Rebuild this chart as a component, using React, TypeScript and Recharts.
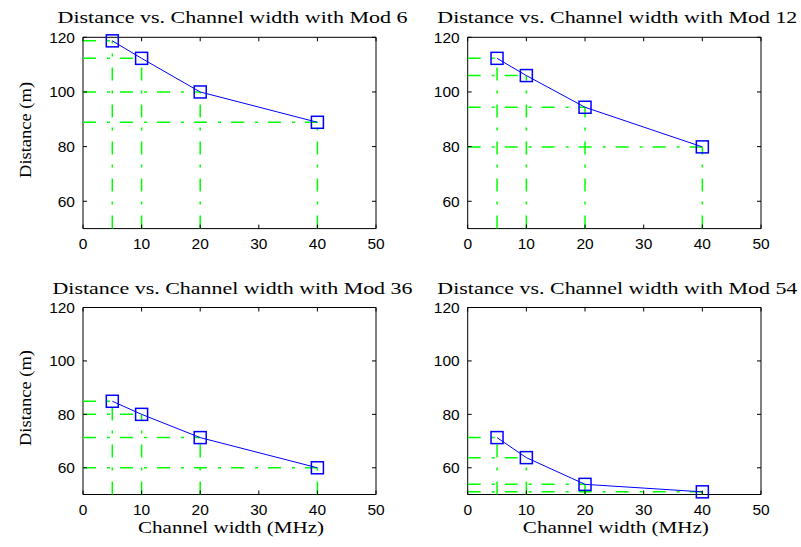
import * as React from "react";
import { LineChart, Line, XAxis, YAxis, ReferenceLine, ReferenceArea } from "recharts";

const channelWidths = [5, 10, 20, 40];
const mod6 = [118.7, 112.3, 100, 88.9];
const mod12 = [112.3, 106, 94.4, 79.9];
const mod36 = [84.9, 80, 71.3, 60];
const mod54 = [71.3, 63.8, 53.8, 51];

const xTicks = [0, 10, 20, 30, 40, 50];
const yTicks = [60, 80, 100, 120];
const modLabels = ["6", "12", "36", "54"];

const W = 801;
const H = 547;
const BLUE = "#0000ff";
const GREEN = "#00ff00";
const SERIF = "'Liberation Serif', 'Times New Roman', serif";
const SANS = "'Liberation Sans', Arial, sans-serif";

// plot boxes in page pixels
const PANELS = [
  { series: mod6, left: 83, right: 376, top: 37.3, bottom: 228.6, yLabel: true, xLabel: false, titleLen: 350 },
  { series: mod12, left: 467.7, right: 761, top: 37.3, bottom: 228.6, yLabel: false, xLabel: false, titleLen: 360 },
  { series: mod36, left: 83, right: 376, top: 307.5, bottom: 494.5, yLabel: true, xLabel: true, titleLen: 360 },
  { series: mod54, left: 467.7, right: 761, top: 307.5, bottom: 494.5, yLabel: false, xLabel: true, titleLen: 360 },
];

type Panel = (typeof PANELS)[number];

function Square(props: any) {
  const { cx, cy } = props;
  if (cx == null || cy == null) return null;
  return <rect x={cx - 6} y={cy - 6} width={12} height={12} fill="none" stroke={BLUE} strokeWidth={1.5} />;
}

function Subplot({ p, idx }: { p: Panel; idx: number }) {
  const data = channelWidths.map((x, i) => ({ x, y: p.series[i] }));
  const plotH = p.bottom - p.top;
  const plotW = p.right - p.left;
  const cx = (p.left + p.right) / 2;

  const xTick = (props: any) => {
    const { x, y, payload } = props;
    return (
      <g>
        <line x1={x} y1={y} x2={x} y2={y - 4} stroke="#000" />
        <line x1={x} y1={y - plotH} x2={x} y2={y - plotH + 4} stroke="#000" />
        <text x={x} y={y + 20} textAnchor="middle" fontFamily={SANS} fontSize={15.5} fill="#000">
          {payload.value}
        </text>
      </g>
    );
  };

  const yTick = (props: any) => {
    const { x, y, payload } = props;
    return (
      <g>
        <line x1={x} y1={y} x2={x + 4} y2={y} stroke="#000" />
        <line x1={x + plotW} y1={y} x2={x + plotW - 4} y2={y} stroke="#000" />
        <text x={x - 8} y={y + 5.5} textAnchor="end" fontFamily={SANS} fontSize={15.5} fill="#000">
          {payload.value}
        </text>
      </g>
    );
  };

  const title = () => (
    <g>
      <text
        x={cx + 3}
        y={p.top - 14}
        textAnchor="middle"
        fontFamily={SERIF}
        fontSize={17}
        textLength={p.titleLen}
        lengthAdjust="spacingAndGlyphs"
        fill="#000"
      >
        {`Distance vs. Channel width with Mod ${modLabels[idx]}`}
      </text>
      {p.xLabel && (
        <text
          x={cx + 1.5}
          y={p.bottom + 38.5}
          textAnchor="middle"
          fontFamily={SERIF}
          fontSize={17}
          textLength={186}
          lengthAdjust="spacingAndGlyphs"
          fill="#000"
        >
          Channel width (MHz)
        </text>
      )}
      {p.yLabel && (
        <text
          x={p.left - 52}
          y={(p.top + p.bottom) / 2 - 3}
          transform={`rotate(-90 ${p.left - 52} ${(p.top + p.bottom) / 2 - 3})`}
          textAnchor="middle"
          fontFamily={SERIF}
          fontSize={17}
          textLength={96}
          lengthAdjust="spacingAndGlyphs"
          fill="#000"
        >
          Distance (m)
        </text>
      )}
    </g>
  );

  return (
    <div style={{ position: "absolute", left: 0, top: 0 }}>
      <LineChart
        width={W}
        height={H}
        data={data}
        margin={{ left: p.left - 60, right: W - p.right, top: p.top, bottom: H - p.bottom - 30 }}
      >
        <XAxis
          type="number"
          dataKey="x"
          domain={[0, 50]}
          ticks={xTicks}
          interval={0}
          axisLine={false}
          tickLine={false}
          tickSize={0}
          tickMargin={0}
          height={30}
          tick={xTick}
        />
        <YAxis
          type="number"
          domain={[50, 120]}
          ticks={yTicks}
          interval={0}
          axisLine={false}
          tickLine={false}
          tickSize={0}
          tickMargin={0}
          width={60}
          tick={yTick}
        />
        <ReferenceArea x1={0} x2={50} y1={50} y2={120} fill="none" fillOpacity={0} stroke="#000" strokeWidth={1} label={title} />
        {data.map((d) => (
          <ReferenceLine
            key={`h${d.x}`}
            segment={[{ x: 0, y: d.y }, { x: d.x, y: d.y }]}
            stroke={GREEN}
            strokeWidth={1.5}
            strokeDasharray="13 11 3 10"
          />
        ))}
        {data.map((d) => (
          <ReferenceLine
            key={`v${d.x}`}
            segment={[{ x: d.x, y: 50 }, { x: d.x, y: d.y }]}
            stroke={GREEN}
            strokeWidth={1.5}
            strokeDasharray="13 11 3 10"
          />
        ))}
        <Line
          type="linear"
          dataKey="y"
          stroke={BLUE}
          strokeWidth={1}
          dot={<Square />}
          activeDot={false}
          isAnimationActive={false}
        />
      </LineChart>
    </div>
  );
}

export default function App() {
  return (
    <div style={{ position: "relative", width: W, height: H, background: "#fff" }}>
      <style>{`body { margin: 0; }`}</style>
      {PANELS.map((p, i) => (
        <Subplot key={i} p={p} idx={i} />
      ))}
    </div>
  );
}
